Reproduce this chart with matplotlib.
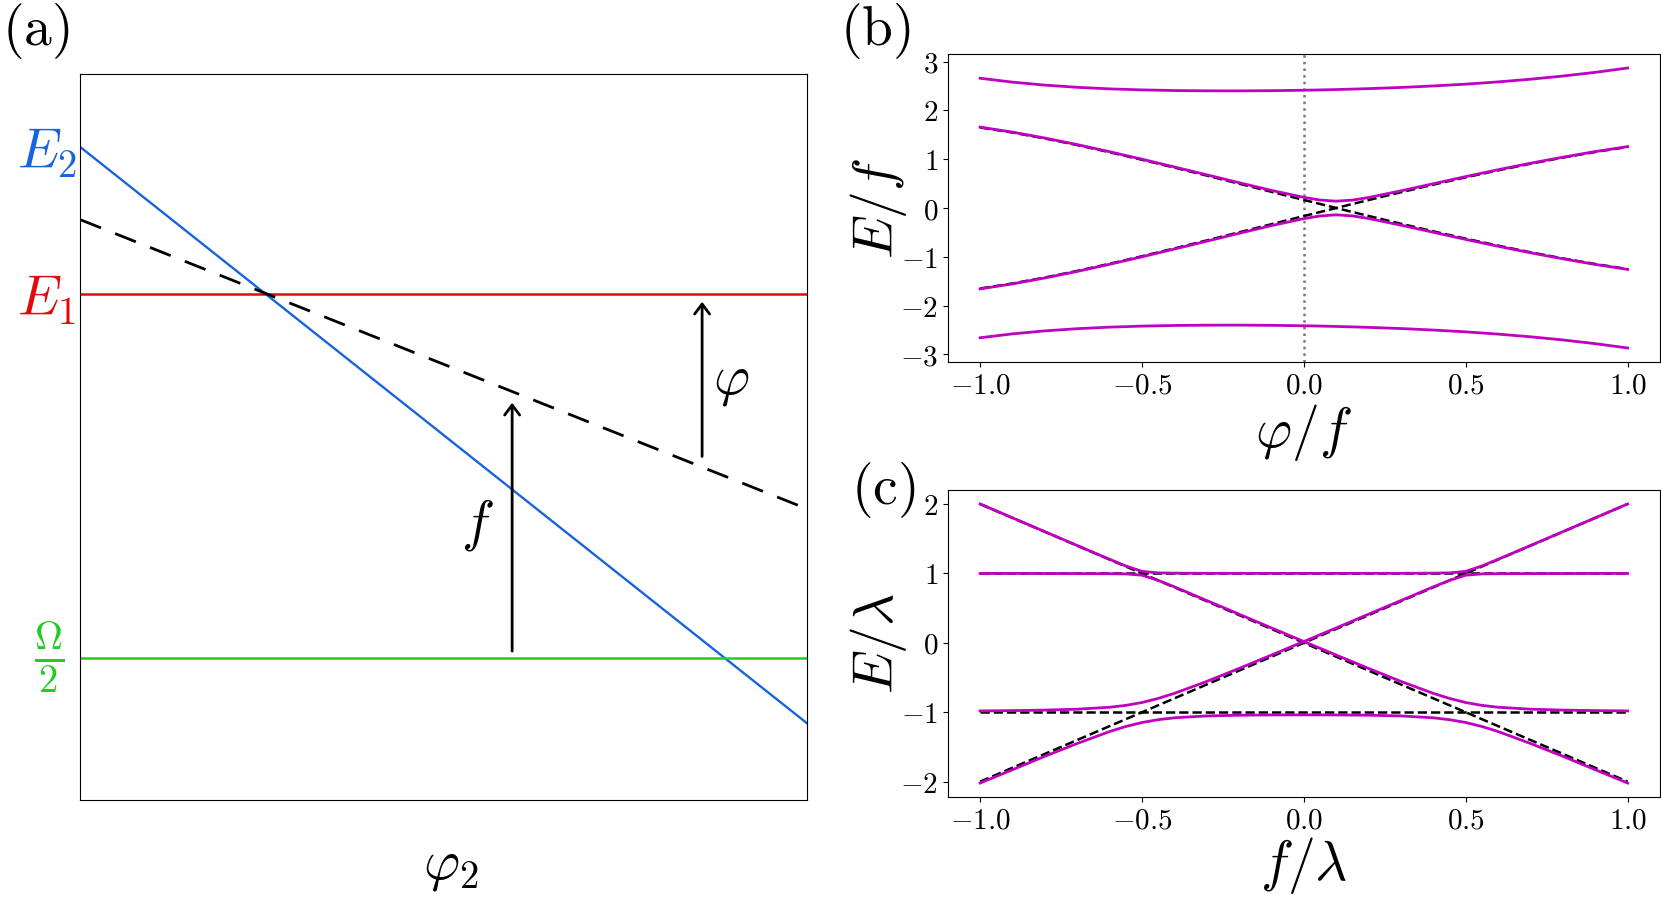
import matplotlib
matplotlib.use('Agg')
import matplotlib.pyplot as plt
import matplotlib.transforms as mtransforms

plt.rcParams['mathtext.fontset'] = 'cm'

# ---- panel (a): schematic level diagram (axes units 0..1) ----
a_phi2 = [0.0, 1.0]
a_E2 = [0.899, 0.106]
a_E1 = [0.697, 0.697]
a_half_omega = [0.196, 0.196]
a_dash_x = [0.0, 0.99]
a_dash_y = [0.799, 0.405]
arrow_f_x = 0.5945
arrow_f_y = [0.205, 0.547]
arrow_phi_x = 0.856
arrow_phi_y = [0.473, 0.686]

# ---- panel (b): E/f vs phi/f ----
xb = [-1.0, -0.9, -0.8, -0.7, -0.6, -0.5, -0.4, -0.3, -0.2, -0.1, 0.0, 0.05, 0.1,
      0.15, 0.2, 0.3, 0.4, 0.5, 0.6, 0.7, 0.8, 0.9, 1.0]
b_top = [2.661, 2.581, 2.520, 2.475, 2.443, 2.422, 2.409, 2.403, 2.402, 2.406, 2.415, 2.421, 2.429,
         2.438, 2.448, 2.472, 2.503, 2.540, 2.586, 2.641, 2.706, 2.782, 2.871]
b_mid_hi = [1.659, 1.556, 1.435, 1.300, 1.154, 1.001, 0.842, 0.681, 0.519, 0.361, 0.218, 0.163, 0.140,
            0.162, 0.215, 0.352, 0.498, 0.644, 0.785, 0.918, 1.042, 1.157, 1.259]
b_mid_lo = [-1.659, -1.556, -1.435, -1.300, -1.154, -1.001, -0.842, -0.681, -0.519, -0.361, -0.218, -0.163, -0.140,
            -0.162, -0.215, -0.352, -0.498, -0.644, -0.785, -0.918, -1.042, -1.157, -1.259]
b_bot = [-2.661, -2.581, -2.520, -2.475, -2.443, -2.422, -2.409, -2.403, -2.402, -2.406, -2.415, -2.421, -2.429,
         -2.438, -2.448, -2.472, -2.503, -2.540, -2.586, -2.641, -2.706, -2.782, -2.871]
b_dash_1 = [1.651, 1.547, 1.426, 1.290, 1.144, 0.989, 0.829, 0.665, 0.499, 0.332, 0.165, 0.083, 0.0,
            -0.082, -0.163, -0.323, -0.479, -0.629, -0.772, -0.908, -1.034, -1.149, -1.253]
b_dash_2 = [-1.651, -1.547, -1.426, -1.290, -1.144, -0.989, -0.829, -0.665, -0.499, -0.332, -0.165, -0.083, 0.0,
            0.082, 0.163, 0.323, 0.479, 0.629, 0.772, 0.908, 1.034, 1.149, 1.253]

# ---- panel (c): E/lambda vs f/lambda ----
xc = [-1.0, -0.9, -0.8, -0.7, -0.6, -0.55, -0.5, -0.45, -0.4, -0.3, -0.2, -0.1, 0.0,
      0.1, 0.2, 0.3, 0.4, 0.45, 0.5, 0.55, 0.6, 0.7, 0.8, 0.9, 1.0]
c_1 = [2.001, 1.801, 1.602, 1.402, 1.204, 1.108, 1.030, 1.008, 1.004, 1.002, 1.002, 1.001, 1.001,
       1.001, 1.002, 1.002, 1.004, 1.008, 1.030, 1.108, 1.204, 1.402, 1.602, 1.801, 2.001]
c_2 = [1.000, 1.000, 0.999, 0.998, 0.996, 0.993, 0.975, 0.900, 0.807, 0.610, 0.413, 0.215, 0.019,
       -0.176, -0.369, -0.556, -0.728, -0.801, -0.860, -0.901, -0.928, -0.956, -0.969, -0.976, -0.981]
c_3 = [-0.981, -0.976, -0.969, -0.956, -0.928, -0.901, -0.860, -0.801, -0.728, -0.556, -0.369, -0.176, 0.019,
       0.215, 0.413, 0.610, 0.807, 0.900, 0.975, 0.993, 0.996, 0.998, 0.999, 1.000, 1.000]
c_4 = [-2.020, -1.828, -1.634, -1.450, -1.278, -1.205, -1.148, -1.107, -1.080, -1.053, -1.043, -1.039, -1.038,
       -1.039, -1.043, -1.053, -1.080, -1.107, -1.148, -1.205, -1.278, -1.450, -1.634, -1.828, -2.020]
c_dash_x = [-1.0, 1.0]
c_dash_up = [1.0, 1.0]
c_dash_down = [-1.0, -1.0]
c_dash_rise = [-2.0, 2.0]
c_dash_fall = [2.0, -2.0]

xticks = [-1.0, -0.5, 0.0, 0.5, 1.0]
yticks_b = [-3, -2, -1, 0, 1, 2, 3]
yticks_c = [-2, -1, 0, 1, 2]

blue = '#1864dc'
red = '#e00a0a'
green = '#22cc22'
magenta = '#c000c0'

LABEL = 40
TICK = 21

fig = plt.figure(figsize=(16.61, 8.97), dpi=100)

# panel (a)
ax = fig.add_axes([0.04834, 0.10814, 0.43733, 0.80970])
ax.plot(a_phi2, a_E2, color=blue, lw=1.7)
ax.plot(a_phi2, a_E1, color=red, lw=1.8)
ax.plot(a_phi2, a_half_omega, color=green, lw=1.8)
ax.plot(a_dash_x, a_dash_y, color='k', lw=2, dashes=(8, 5.5))
arrow = dict(arrowstyle='->,head_length=0.6,head_width=0.45', lw=2, color='k',
             shrinkA=0, shrinkB=0, mutation_scale=12)
ax.annotate('', xy=(arrow_f_x, arrow_f_y[1]), xytext=(arrow_f_x, arrow_f_y[0]), arrowprops=arrow)
ax.annotate('', xy=(arrow_phi_x, arrow_phi_y[1]), xytext=(arrow_phi_x, arrow_phi_y[0]), arrowprops=arrow)
ax.text(0.547, 0.378, r'$f$', fontsize=LABEL, ha='center', va='center')
ax.text(0.896, 0.577, r'$\varphi$', fontsize=LABEL, ha='center', va='center')
ax.set_xlim(0, 1)
ax.set_ylim(0, 1)
ax.set_xticks([])
ax.set_yticks([])
trans = mtransforms.blended_transform_factory(ax.transAxes, ax.transData)
ax.annotate(r'$E_2$', xy=(-0.046, a_E2[0]), xycoords=trans, xytext=(0, -5),
            textcoords='offset points', ha='center', va='center', fontsize=LABEL, color=blue,
            annotation_clip=False)
ax.annotate(r'$E_1$', xy=(-0.046, a_E1[0]), xycoords=trans, xytext=(0, -5),
            textcoords='offset points', ha='center', va='center', fontsize=LABEL, color=red,
            annotation_clip=False)
ax.annotate(r'$\frac{\Omega}{2}$', xy=(-0.043, a_half_omega[0]), xycoords=trans, xytext=(0, 0),
            textcoords='offset points', ha='center', va='center', fontsize=LABEL, color=green,
            annotation_clip=False)
ax.set_xlabel(r'$\varphi_2$', fontsize=LABEL)
ax.xaxis.set_label_coords(0.51, -0.054)

# panel (b)
ax = fig.add_axes([0.57056, 0.59643, 0.42884, 0.34337])
ax.axvline(0.0, color='#777777', ls=':', lw=1.8)
ax.plot(xb, b_dash_1, 'k--', lw=1.8)
ax.plot(xb, b_dash_2, 'k--', lw=1.8)
for yy in (b_top, b_mid_hi, b_mid_lo, b_bot):
    ax.plot(xb, yy, color=magenta, lw=2)
ax.set_xticks(xticks)
ax.set_xticklabels([r'$%.1f$' % t for t in xticks], fontsize=TICK)
ax.set_yticks(yticks_b)
ax.set_yticklabels([r'$%d$' % t for t in yticks_b], fontsize=TICK)
ax.set_xlabel(r'$\varphi/f$', fontsize=LABEL)
ax.set_ylabel(r'$E/f$', fontsize=LABEL)
ax.xaxis.set_label_coords(0.5, -0.13)
ax.yaxis.set_label_coords(-0.055, 0.5)

# panel (c)
ax = fig.add_axes([0.57056, 0.11148, 0.42884, 0.34225])
for yy in (c_dash_up, c_dash_down, c_dash_rise, c_dash_fall):
    ax.plot(c_dash_x, yy, 'k--', lw=1.8)
for yy in (c_1, c_2, c_3, c_4):
    ax.plot(xc, yy, color=magenta, lw=2)
ax.set_xticks(xticks)
ax.set_xticklabels([r'$%.1f$' % t for t in xticks], fontsize=TICK)
ax.set_yticks(yticks_c)
ax.set_yticklabels([r'$%d$' % t for t in yticks_c], fontsize=TICK)
ax.set_xlabel(r'$f/\lambda$', fontsize=LABEL)
ax.set_ylabel(r'$E/\lambda$', fontsize=LABEL)
ax.xaxis.set_label_coords(0.5, -0.125)
ax.yaxis.set_label_coords(-0.055, 0.5)

fig.text(0.001, 0.999, r'$\mathrm{(a)}$', fontsize=LABEL, ha='left', va='top')
fig.text(0.506, 0.999, r'$\mathrm{(b)}$', fontsize=LABEL, ha='left', va='top')
fig.text(0.5124, 0.487, r'$\mathrm{(c)}$', fontsize=LABEL, ha='left', va='top')

fig.savefig('out.png', dpi=100)
